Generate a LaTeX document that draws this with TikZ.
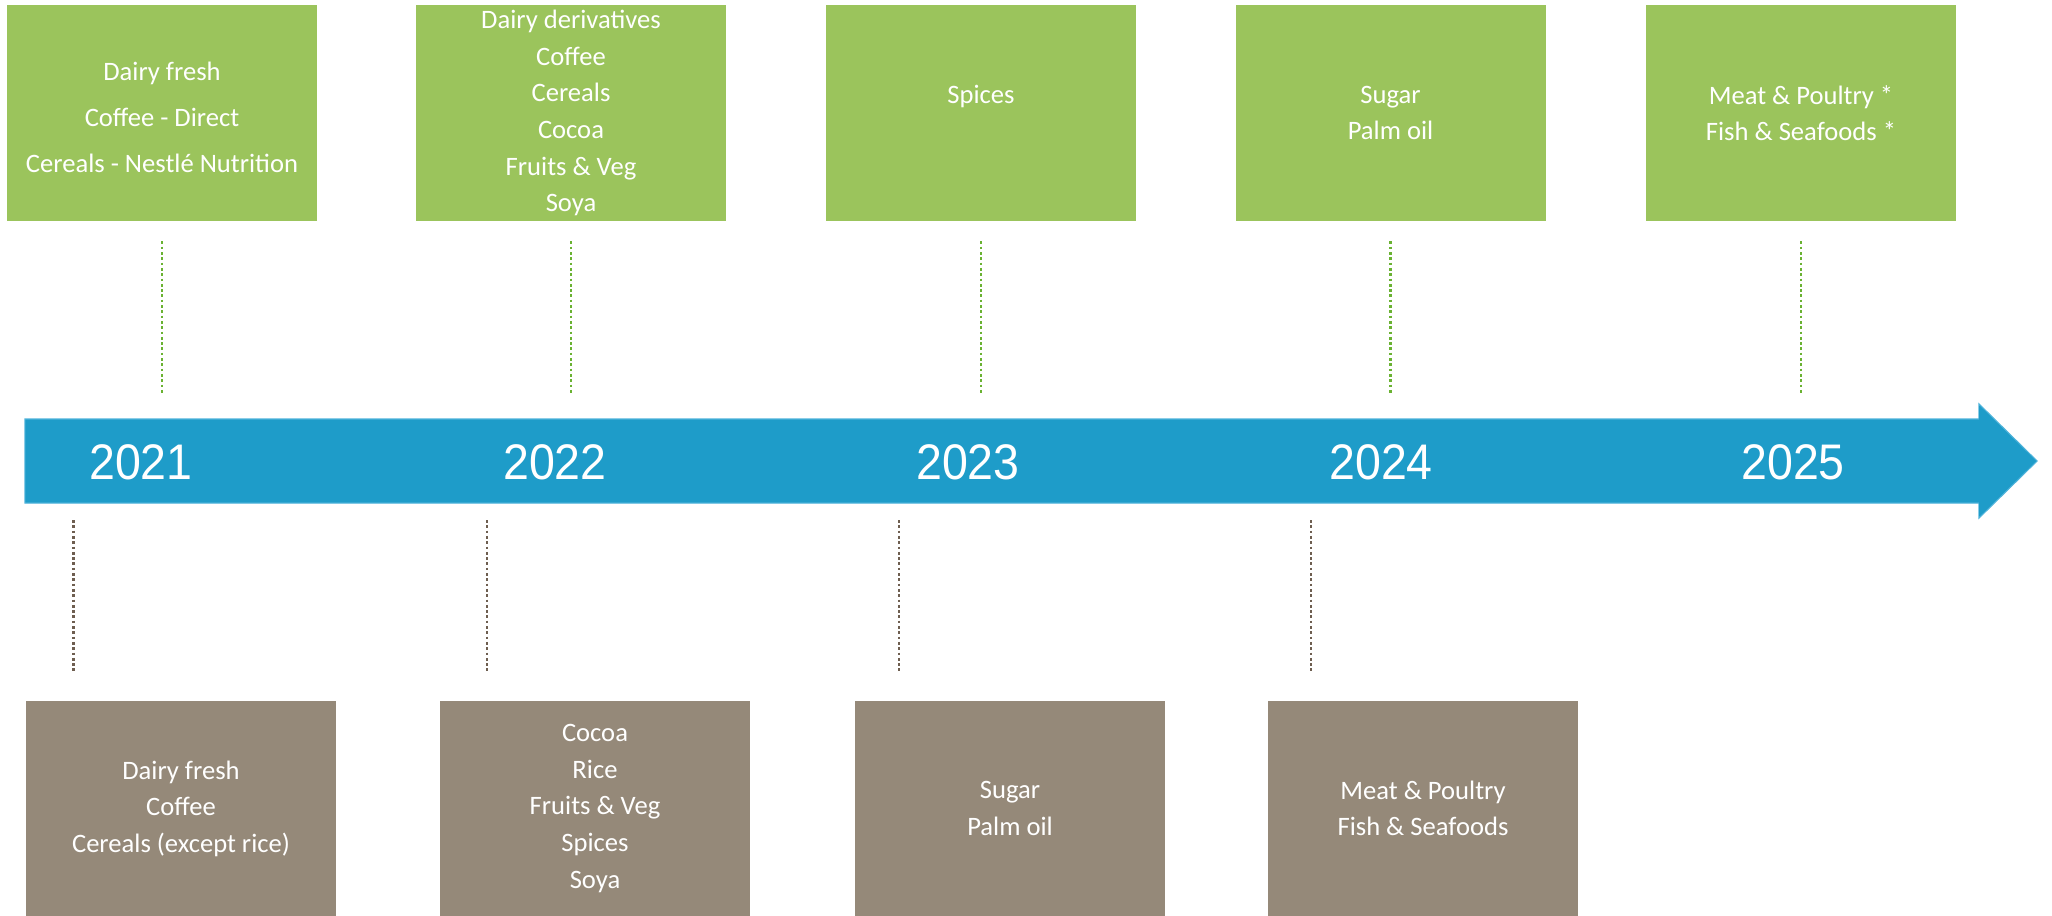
\documentclass[tikz,border=0pt]{standalone}
\usepackage{fontspec}
\setmainfont{Carlito}
\newfontfamily\yearfont{Liberation Sans}
\definecolor{boxgreen}{HTML}{9BC45C}
\definecolor{boxbrown}{HTML}{958979}
\definecolor{arrowblue}{HTML}{1E9CC9}
\definecolor{arrowedge}{HTML}{4DB2DA}
\definecolor{dotgreen}{HTML}{6AB232}
\definecolor{dotbrown}{HTML}{6E5E50}
\begin{document}
\begin{tikzpicture}[x=0.5pt,y=-0.5pt,
  gbox/.style={rectangle, fill=boxgreen, minimum width=155pt, minimum height=108pt, inner sep=0pt, text=white, align=center, font=\fontsize{13.3pt}{18.35pt}\selectfont},
  bbox/.style={rectangle, fill=boxbrown, minimum width=155pt, minimum height=108pt, inner sep=0pt, text=white, align=center, font=\fontsize{13.3pt}{18.3pt}\selectfont},
  yearlabel/.style={inner sep=0pt, text=white, font=\yearfont\fontsize{25pt}{28pt}\selectfont, xscale=0.93},
  gdot/.style={draw=dotgreen, line width=1.35pt, dash pattern=on 1.35pt off 1.3pt},
  bdot/.style={draw=dotbrown, line width=1.35pt, dash pattern=on 1.35pt off 1.3pt}]
\useasboundingbox (0,0) rectangle (2052,916);
% timeline arrow
\draw[fill=arrowblue, draw=arrowedge, line width=0.6pt] (25,419) -- (1979,419) -- (1979,404) -- (2037,461) -- (1979,518) -- (1979,503) -- (25,503) -- cycle;
\fill[arrowblue] (25.5,420) -- (1979,420) -- (1979,405.5) -- (2036,461) -- (1979,516.5) -- (1979,502) -- (25.5,502) -- cycle;
% year labels
\node[yearlabel] (y1) at (141,462) {2021};
\node[yearlabel] (y2) at (555,462) {2022};
\node[yearlabel] (y3) at (968,462) {2023};
\node[yearlabel] (y4) at (1381,462) {2024};
\node[yearlabel] (y5) at (1793,462) {2025};
% green boxes
\node[gbox, font=\fontsize{13.3pt}{23pt}\selectfont] (g1) at (162,113) {\rule{0pt}{13.3pt}Dairy fresh\\Coffee - Direct\\Cereals - Nestlé Nutrition};
\node[gbox] (g2) at (571,113) {Dairy derivatives\\Coffee\\Cereals\\Cocoa\\Fruits \& Veg\\Soya};
\node[gbox] (g3) at (981,113) {Spices\\~};
\node[gbox] (g4) at (1390.5,113) {Sugar\\Palm oil};
\node[gbox] (g5) at (1801,113) {Meat \& Poultry *\\Fish \& Seafoods *};
% green dotted connectors
\foreach \i in {1,...,5}{
  \draw[gdot] ([yshift=-10pt]g\i.south) -- ++(0,152);
}
% brown boxes
\node[bbox] (b1) at (181,808.5) {Dairy fresh\\Coffee\\Cereals (except rice)};
\node[bbox] (b2) at (595,808.5) {Cocoa\\Rice\\Fruits \& Veg\\Spices\\Soya};
\node[bbox] (b3) at (1010,808.5) {Sugar\\Palm oil};
\node[bbox] (b4) at (1423,808.5) {Meat \& Poultry\\Fish \& Seafoods};
% brown dotted connectors
\coordinate (bs1) at (73.5,520);  \coordinate (be1) at (73.5,671);
\coordinate (bs2) at (487,520);   \coordinate (be2) at (487,671);
\coordinate (bs3) at (899,520);   \coordinate (be3) at (899,671);
\coordinate (bs4) at (1311,520);  \coordinate (be4) at (1311,671);
\foreach \i in {1,...,4}{
  \draw[bdot] (bs\i) -- (be\i);
}
\end{tikzpicture}
\end{document}
